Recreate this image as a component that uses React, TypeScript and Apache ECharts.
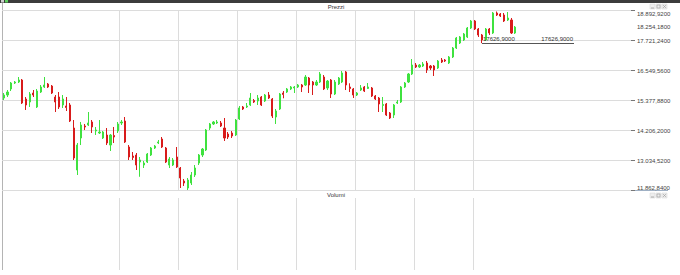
import React, { useEffect, useRef } from 'react';
import * as echarts from 'echarts';

// ---- data ----
const categories: string[] = Array.from({ length: 171 }, (_, i) => `S${i + 1}`);

// [open, close, low, high]
const ohlcPart1 = [
  [15483, 15600, 15405, 15678], [15600, 15717, 15522, 15795], [15835, 16069, 15756, 16108], [16069, 16108, 16030, 16147],
  [16108, 16186, 16069, 16303], [16186, 15288, 15249, 16225], [15444, 15210, 15015, 15522], [15327, 15639, 15132, 15717],
  [15678, 15600, 15522, 15795], [15132, 15756, 15093, 15835], [15717, 15913, 15678, 15991], [15913, 15991, 15874, 16303],
  [16030, 15913, 15874, 16069], [15952, 15678, 15639, 15991], [15522, 15327, 14936, 15600], [15522, 15132, 15054, 15717],
  [15210, 15444, 15093, 15600], [15171, 15112, 14975, 15522], [15210, 14585, 14546, 15288], [14311, 13140, 13062, 14624],
  [12671, 13647, 12476, 13726], [13921, 14429, 13647, 14546], [14390, 14351, 14233, 14468], [14429, 14507, 14390, 14936],
  [14546, 14351, 14116, 14624], [14194, 14233, 14038, 14351], [14116, 14155, 14077, 14624], [13921, 14155, 13882, 14194],
  [14038, 13726, 13647, 14311], [13647, 14038, 13413, 14077], [14019, 13960, 13726, 14351], [14194, 14468, 14116, 14546],
  [14507, 14546, 14429, 14624], [14585, 13765, 13726, 14741], [13569, 13179, 13062, 13647],
];
const ohlcPart2 = [
  [13218, 13160, 13062, 13374], [13257, 12866, 12671, 13335], [12983, 13062, 12407, 13179], [12866, 12944, 12749, 13023],
  [12983, 13296, 12944, 13335], [13257, 13530, 13218, 13569], [13530, 13608, 13491, 13647], [13726, 13765, 13686, 13843],
  [13882, 13569, 13530, 13960], [13530, 12983, 12944, 13569], [12866, 13101, 12749, 13179], [12866, 13062, 12827, 13140],
  [13179, 12788, 12749, 13569], [12749, 12359, 11968, 12788], [12241, 12163, 12046, 12320], [11968, 12280, 11890, 12359],
  [12163, 12476, 12085, 12593], [12476, 12749, 12398, 12866], [12944, 13257, 12866, 13296], [13257, 13491, 13179, 13530],
  [13452, 14233, 13413, 14272], [14311, 14468, 14233, 14507], [14468, 14546, 14429, 14585], [14507, 14546, 14468, 14624],
  [14507, 14390, 14351, 14585], [14311, 13921, 13804, 14702], [14077, 13960, 13882, 14155], [14116, 13999, 13921, 14194],
  [14038, 14624, 13999, 14663], [14663, 15093, 14624, 15171], [15132, 15054, 15015, 15171], [15132, 15171, 15093, 15288],
  [15210, 15483, 15171, 15678], [15385, 15327, 15288, 15444], [15366, 15483, 15210, 15600],
];
const ohlcPart3 = [
  [15522, 15210, 15171, 15561], [15366, 15600, 15327, 15639], [15600, 15483, 15444, 15717], [15444, 14780, 14702, 15483],
  [14741, 14975, 14468, 15054], [15054, 15639, 15015, 15678], [15678, 15620, 15472, 15756], [15717, 15835, 15678, 15874],
  [15835, 15913, 15795, 15952], [15874, 15913, 15678, 15952], [15913, 15991, 15874, 16030], [15991, 15913, 15717, 16030],
  [15991, 16303, 15952, 16381], [16264, 15991, 15678, 16303], [16108, 15991, 15600, 16147], [15991, 16108, 15952, 16186],
  [16108, 16421, 16069, 16499], [16303, 15835, 15795, 16381], [15874, 16147, 15795, 16186], [16186, 15639, 15483, 16225],
  [15639, 16108, 15600, 16186], [16030, 16264, 15991, 16303], [16108, 16460, 16069, 16538], [16499, 15991, 15795, 16538],
  [15913, 15854, 15717, 16057], [15835, 15600, 15483, 15874], [15600, 15678, 15561, 15717], [15795, 15874, 15756, 15991],
  [15913, 15756, 15717, 15952], [15854, 15913, 15835, 16069], [15874, 15561, 15522, 15913], [15561, 15444, 15405, 15600],
  [15483, 15249, 14936, 15522], [15190, 15229, 14936, 15522], [15249, 14819, 14780, 15288],
];
const ohlcPart4 = [
  [14897, 14702, 14663, 14936], [14819, 15210, 14702, 15249], [15288, 15327, 15249, 15405], [15327, 15913, 15288, 15952],
  [15913, 16069, 15874, 16108], [16108, 16421, 16069, 16460], [16421, 16772, 16381, 17006], [16772, 16694, 16655, 16850],
  [16694, 16772, 16655, 16811], [16733, 16811, 16694, 16889], [16850, 16577, 16460, 16928], [16733, 16655, 16577, 16772],
  [16733, 16577, 16342, 16772], [16655, 16928, 16616, 16967], [16967, 16889, 16850, 17045], [16967, 16928, 16889, 17006],
  [16850, 17085, 16811, 17124], [17085, 17436, 17045, 17475], [17436, 17827, 17397, 17866], [17631, 17866, 17592, 17905],
  [17749, 17983, 17709, 18022], [17866, 18217, 17827, 18256], [18217, 18491, 18178, 18530], [18491, 18178, 18139, 18530],
  [18178, 17944, 17866, 18217], [17944, 17749, 17626.9, 17983], [17749, 18178, 17709, 18217], [18178, 18022, 17944, 18217],
  [18022, 18803, 17983, 18842], [18803, 18725, 18686, 18862], [18764, 18686, 18647, 18803], [18725, 18491, 18452, 18803],
  [18530, 18608, 18491, 18842], [18530, 18022, 17983, 18608], [18022, 18254.18, 17983, 18295],
];

const yMin = 11862.84;
const yMax = 18892.92;
const yStep = 1171.68;
const supportLevel = 17626.9;
const lastClose = 18254.18;
const supportStartIndex = 130;
const supportEndIndex = 155;
const gridLineEvery = 16;
const lastGridLineIndex = 128;

const panelTitles = ['Prezzi', 'Volumi'];

const UP = '#3fe23f';
const DOWN = '#d81b1b';
const FONT = 'Liberation Sans, Arial, sans-serif';

function fmtIt(v: number): string {
  const [ip, dp] = v.toFixed(4).split('.');
  return ip.replace(/\B(?=(\d{3})+(?!\d))/g, '.') + ',' + dp;
}
function fmtPlain(v: number): string {
  return v.toFixed(4).replace('.', ',');
}

const splitInterval = (index: number) => index > 0 && index % gridLineEvery === 0 && index <= lastGridLineIndex;

export default function App() {
  const ref = useRef<HTMLDivElement>(null);
  useEffect(() => {
    if (!ref.current) return;
    const chart = echarts.init(ref.current, undefined, { renderer: 'svg' });
    const candles = [...ohlcPart1, ...ohlcPart2, ...ohlcPart3, ...ohlcPart4];
    const gridCommon = { left: 2, right: 49 };
    const xCommon = {
      type: 'category' as const,
      data: categories,
      boundaryGap: true,
      axisLine: { show: false },
      axisTick: { show: false },
      axisLabel: { show: false },
      splitLine: {
        show: true,
        showMinLine: false,
        showMaxLine: false,
        interval: splitInterval,
        lineStyle: { color: '#dcdcdc', width: 1 },
      },
    };
    const iconGroup = (y: number) => ({
      type: 'group',
      x: 650,
      y,
      children: [
        { type: 'rect', shape: { x: 0, y: 0, width: 5, height: 5 }, style: { fill: '#eeeeee', stroke: '#d0d0d0', lineWidth: 0.5 } },
        { type: 'line', shape: { x1: 1, y1: 4, x2: 4, y2: 4 }, style: { stroke: '#999', lineWidth: 0.8 } },
        { type: 'rect', shape: { x: 6, y: 0, width: 5, height: 5 }, style: { fill: '#eeeeee', stroke: '#d0d0d0', lineWidth: 0.5 } },
        { type: 'rect', shape: { x: 7, y: 1, width: 3, height: 3 }, style: { fill: 'none', stroke: '#999', lineWidth: 0.6 } },
        { type: 'rect', shape: { x: 12, y: 0, width: 5, height: 5 }, style: { fill: '#eeeeee', stroke: '#d0d0d0', lineWidth: 0.5 } },
        { type: 'line', shape: { x1: 13, y1: 1, x2: 16, y2: 4 }, style: { stroke: '#999', lineWidth: 0.6 } },
        { type: 'line', shape: { x1: 16, y1: 1, x2: 13, y2: 4 }, style: { stroke: '#999', lineWidth: 0.6 } },
      ],
    });
    chart.setOption({
      animation: false,
      backgroundColor: '#ffffff',
      textStyle: { fontFamily: FONT },
      grid: [
        { ...gridCommon, top: 10.7, height: 180 },
        { ...gridCommon, top: 198, height: 72 },
      ],
      xAxis: [
        { ...xCommon, gridIndex: 0 },
        { ...xCommon, gridIndex: 1 },
      ],
      yAxis: [
        {
          type: 'value',
          gridIndex: 0,
          position: 'right',
          min: yMin,
          max: yMax,
          interval: yStep,
          axisLine: { show: false },
          axisTick: { show: true, length: 4, lineStyle: { color: '#777' } },
          axisLabel: {
            fontSize: 6,
            color: '#444',
            margin: 6,
            fontFamily: FONT,
            formatter: (v: number) => fmtIt(v),
            verticalAlignMinLabel: 'bottom',
            verticalAlignMaxLabel: 'top',
          },
          splitLine: { show: true, lineStyle: { color: '#dcdcdc', width: 1 } },
        },
        {
          type: 'value',
          gridIndex: 1,
          position: 'right',
          min: 0,
          max: 1,
          show: false,
          splitLine: { show: false },
        },
      ],
      series: [
        {
          type: 'candlestick',
          xAxisIndex: 0,
          yAxisIndex: 0,
          data: candles,
          barWidth: 1.6,
          itemStyle: { color: UP, color0: DOWN, borderColor: UP, borderColor0: DOWN, borderWidth: 1 },
          markLine: {
            silent: true,
            symbol: ['none', 'none'],
            animation: false,
            data: [
              [
                {
                  coord: [categories[supportStartIndex], supportLevel],
                  lineStyle: { color: '#555', width: 1, type: 'solid' },
                  label: { show: true, position: 'insideStartTop', distance: 1, formatter: fmtPlain(supportLevel), fontSize: 6, color: '#333', fontFamily: FONT },
                },
                { coord: [categories[supportEndIndex], supportLevel] },
              ],
              [
                {
                  coord: [categories[supportStartIndex], supportLevel],
                  lineStyle: { color: '#555', width: 1, type: 'solid' },
                  label: { show: true, position: 'insideEndTop', distance: 1, formatter: fmtPlain(supportLevel), fontSize: 6, color: '#333', fontFamily: FONT },
                },
                { coord: [categories[supportEndIndex], supportLevel] },
              ],
              {
                yAxis: lastClose,
                lineStyle: { color: 'rgba(0,0,0,0)', width: 1, type: 'solid' },
                label: { show: true, position: 'end', distance: 6, formatter: fmtIt(lastClose), fontSize: 6, color: '#444', fontFamily: FONT },
              },
            ],
          },
        },
      ],
      graphic: [
        { type: 'rect', shape: { x: 0, y: 0, width: 680, height: 3 }, style: { fill: '#3c3c3c' } },
        { type: 'rect', shape: { x: 1, y: 0, width: 3, height: 2.5 }, style: { fill: '#cfcfcf' } },
        { type: 'rect', shape: { x: 5, y: 0, width: 3, height: 2.5 }, style: { fill: '#5fd35f' } },
        { type: 'line', shape: { x1: 2.5, y1: 3, x2: 2.5, y2: 270 }, style: { stroke: '#b4b4b4', lineWidth: 1 } },
        { type: 'line', shape: { x1: 2, y1: 190.5, x2: 668, y2: 190.5 }, style: { stroke: '#9fb0c4', lineWidth: 1 } },
        {
          type: 'text', x: 336, y: 7,
          style: { text: panelTitles[0], fontSize: 6, fill: '#333', align: 'center', verticalAlign: 'middle', fontFamily: FONT },
        },
        {
          type: 'text', x: 336, y: 195,
          style: { text: panelTitles[1], fontSize: 6, fill: '#333', align: 'center', verticalAlign: 'middle', fontFamily: FONT },
        },
        iconGroup(4),
        iconGroup(193),
      ],
    } as any);
    return () => chart.dispose();
  }, []);
  return <div ref={ref} style={{ position: 'absolute', left: 0, top: 0, width: 680, height: 275 }} />;
}
